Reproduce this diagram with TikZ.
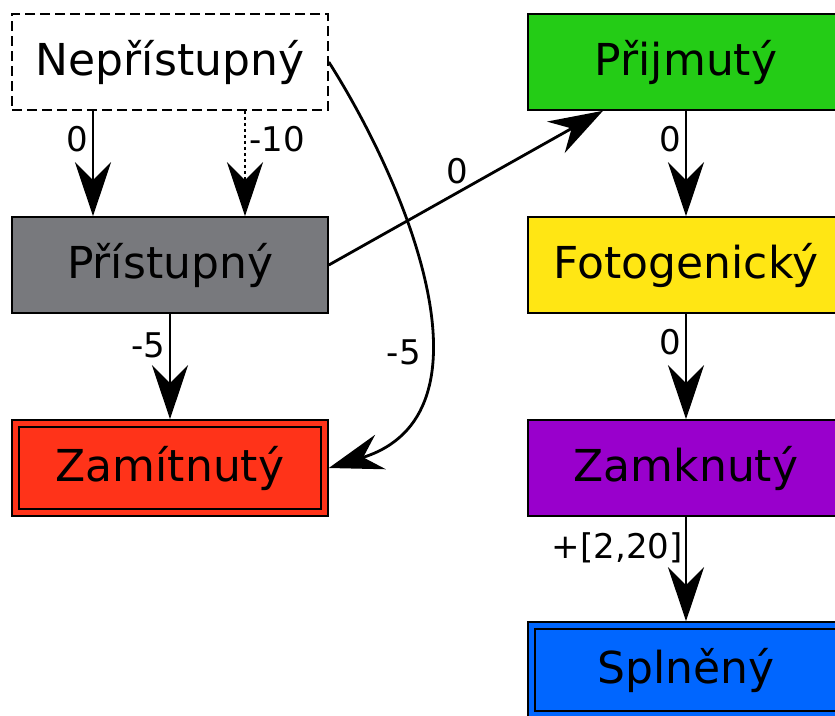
\documentclass[tikz,border=0pt]{standalone}
\usepackage{fontspec}
\setmainfont{DejaVu Sans}
\usetikzlibrary{arrows.meta}

\definecolor{stgray}{RGB}{120,121,125}
\definecolor{stred}{RGB}{255,51,25}
\definecolor{stgreen}{RGB}{36,204,22}
\definecolor{styellow}{RGB}{255,230,20}
\definecolor{stpurple}{RGB}{153,0,204}
\definecolor{stblue}{RGB}{0,102,255}

\tikzset{
  state/.style={draw=black, line width=1.6pt, minimum width=316pt, minimum height=96pt,
    inner sep=0pt, font=\fontsize{44}{50}\selectfont},
  finalbox/.style={draw=black, line width=1.6pt},
  edge/.style={draw=black, line width=2.8pt,
    -{Stealth[length=54pt, width=36pt, inset=18pt]}},
  lbl/.style={font=\fontsize{34}{40}\selectfont, inner sep=3pt}
}

\begin{document}
\begin{tikzpicture}[x=1pt, y=-1pt]
\useasboundingbox (0,0) rectangle (835,715);

% states
\node[state, dash pattern=on 10pt off 5pt, fill=white] (nep) at (170,62) {Nepřístupný};
\node[state, fill=stgray] (pri) at (170,265) {Přístupný};
\node[state, fill=stred] (zam) at (170,468) {Zamítnutý};
\node[state, fill=stgreen] (prij) at (686,62) {Přijmutý};
\node[state, fill=styellow] (foto) at (686,265) {Fotogenický};
\node[state, fill=stpurple] (zamk) at (686,468) {Zamknutý};
\node[state, fill=stblue] (spl) at (686,670) {Splněný};

% inner frames of the final states
\draw[finalbox] ([shift={(8,8)}]zam.north west) rectangle ([shift={(-8,-8)}]zam.south east);
\draw[finalbox] ([shift={(8,8)}]spl.north west) rectangle ([shift={(-8,-8)}]spl.south east);

% transitions
\draw[edge] (nep.south -| 93,0) -- node[lbl, pos=0.27, left] {0} (pri.north -| 93,0);
\draw[edge, dash pattern=on 2.8pt off 3.2pt] (nep.south -| 245,0) -- node[lbl, pos=0.27, right] {-10} (pri.north -| 245,0);
\draw[edge] (pri.south) -- node[lbl, pos=0.3, left] {-5} (zam.north);
\draw[edge] (nep.east) .. controls (410,190) and (500,415) .. node[lbl, pos=0.63, left] {-5} (zam.east);
\draw[edge] (pri.east) -- node[lbl, pos=0.47, above=4pt] {0} (prij.south -| 603,0);
\draw[edge] (prij.south) -- node[lbl, pos=0.27, left] {0} (foto.north);
\draw[edge] (foto.south) -- node[lbl, pos=0.27, left] {0} (zamk.north);
\draw[edge] (zamk.south) -- node[lbl, pos=0.3, left, inner sep=2pt] {+[2,20]} (spl.north);
\end{tikzpicture}
\end{document}
